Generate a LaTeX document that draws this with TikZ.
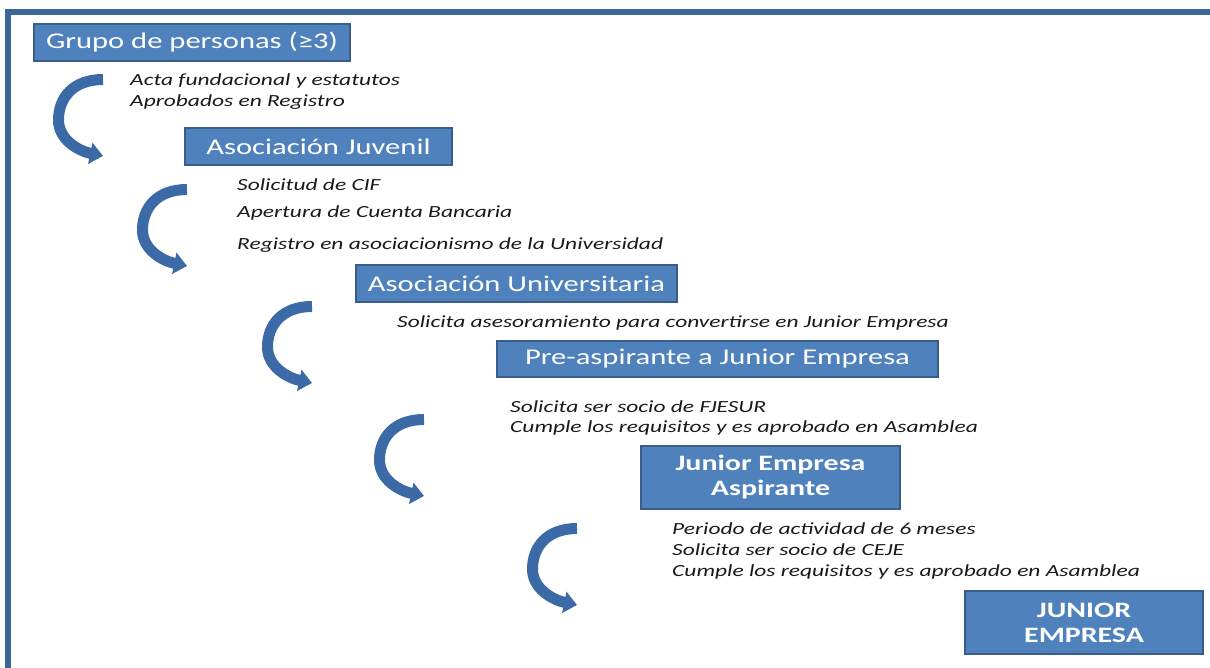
\documentclass[tikz,border=0pt]{standalone}
\usepackage{fontspec}
\setmainfont{Carlito}
\newfontfamily\boxfont[FakeStretch=1.36]{Carlito}
\newfontfamily\lblfont[FakeStretch=1.38]{Carlito}
\usetikzlibrary{arrows.meta}
\definecolor{boxblue}{HTML}{4F81BD}
\definecolor{boxedge}{HTML}{385D8A}
\definecolor{frameblue}{HTML}{3B679A}
\definecolor{arrblue}{HTML}{3C6AA6}
\definecolor{labelgray}{HTML}{1A1A1A}
\tikzset{
  box/.style={draw=boxedge, line width=1.2pt, fill=boxblue, text=white, inner sep=0pt, align=center, font=\boxfont\fontsize{22.5}{25}\selectfont},
  boldbox/.style={box, font=\boxfont\fontsize{22}{25}\selectfont\bfseries},
  lbl/.style={anchor=mid west, inner sep=0pt, text=labelgray, font=\lblfont\fontsize{17}{19}\selectfont\itshape},
  curvarrow/.style={draw=arrblue, line width=11pt, line cap=butt, -{Triangle[width=21pt,length=13pt]}},
}
\newcommand\mycurve[1]{%
  \begin{scope}[shift={#1}]
    \coordinate (cs) at (50,6.5);
    \coordinate (ce) at (50,83);
    \draw[curvarrow] (cs) .. controls (20,6.5) and (5.5,25) .. (5.5,47) .. controls (5.5,67) and (26,78) .. (ce);
  \end{scope}}
\begin{document}
\begin{tikzpicture}[x=1pt,y=-1pt]
\useasboundingbox (0,0) rectangle (1210,668);
\fill[white] (0,0) rectangle (1210,668);
% frame
\fill[frameblue] (5,9) rectangle (1210,15);
\fill[frameblue] (5,9) rectangle (11,668);
% boxes
\node[box, minimum width=316pt, minimum height=37pt] (b1) at (192,42.5) {Grupo de personas (≥3)};
\node[box, minimum width=267pt, minimum height=37pt] (b2) at (318.5,146.5) {Asociación Juvenil};
\node[box, minimum width=321pt, minimum height=37pt] (b3) at (516.5,283.5) {Asociación Universitaria};
\node[box, minimum width=441pt, minimum height=36pt] (b4) at (717.5,359) {Pre-aspirante a Junior Empresa};
\node[boldbox, minimum width=259pt, minimum height=63pt] (b5) at (770.5,477.5) {Junior Empresa\\Aspirante};
\node[boldbox, minimum width=238pt, minimum height=63pt] (b6) at (1084,622.5) {JUNIOR\\EMPRESA};
% labels
\node[lbl] (l1a) at (130,83) {Acta fundacional y estatutos};
\node[lbl] (l1b) at (130,104) {Aprobados en Registro};
\node[lbl] (l2a) at (237,188) {Solicitud de CIF};
\node[lbl] (l2b) at (237,215) {Apertura de Cuenta Bancaria};
\node[lbl] (l2c) at (237,247) {Registro en asociacionismo de la Universidad};
\node[lbl] (l3a) at (397,325) {Solicita asesoramiento para convertirse en Junior Empresa};
\node[lbl] (l4a) at (510,410) {Solicita ser socio de FJESUR};
\node[lbl] (l4b) at (510,430) {Cumple los requisitos y es aprobado en Asamblea};
\node[lbl] (l5a) at (672,532) {Periodo de actividad de 6 meses};
\node[lbl] (l5b) at (672,553) {Solicita ser socio de CEJE};
\node[lbl] (l5c) at (672,574) {Cumple los requisitos y es aprobado en Asamblea};
% curved arrows
\mycurve{(53,73)}
\mycurve{(137,183)}
\mycurve{(262,300)}
\mycurve{(374,413)}
\mycurve{(527,522)}
\end{tikzpicture}
\end{document}
